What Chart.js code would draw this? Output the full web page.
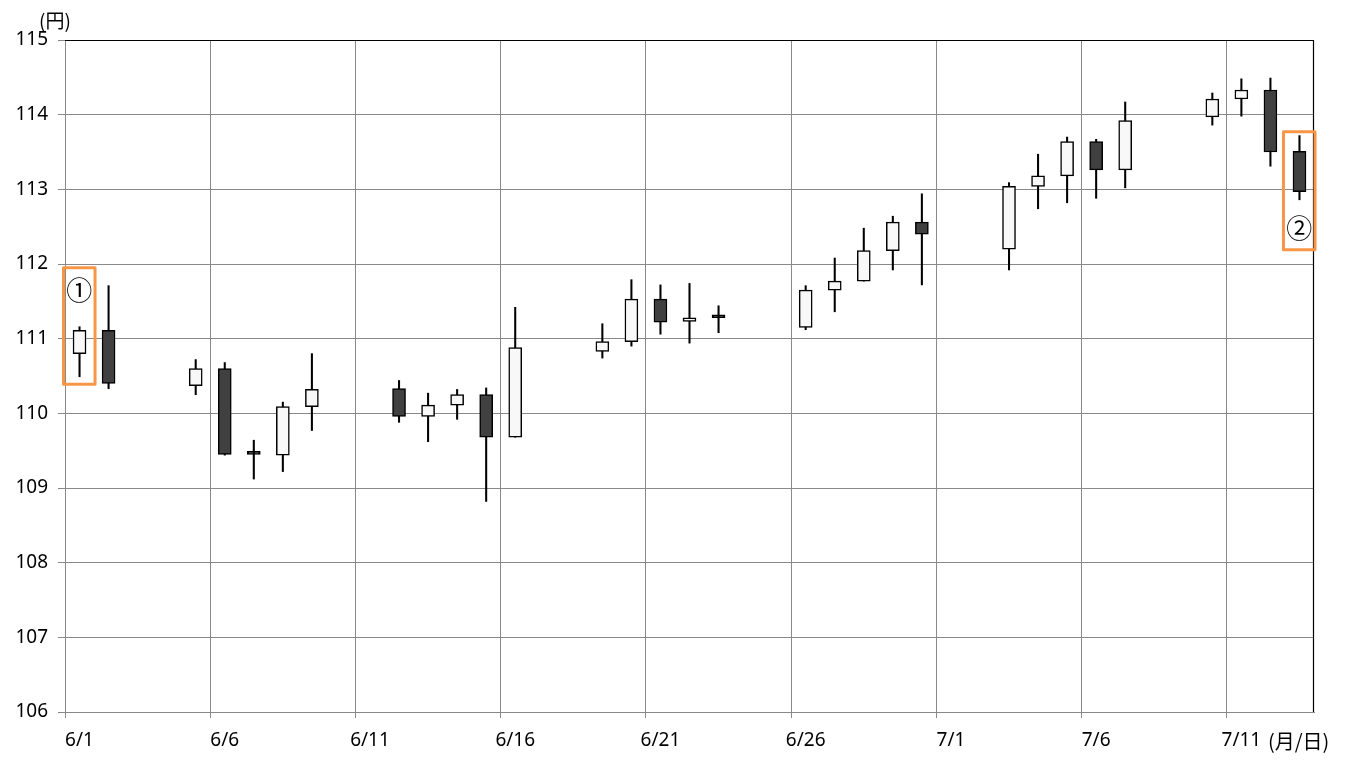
<!DOCTYPE html>
<html>
<head>
<meta charset="utf-8">
<script src="https://cdn.jsdelivr.net/npm/chart.js@4/dist/chart.umd.min.js"></script>
<style>
  html, body { margin: 0; padding: 0; background: #fff; }
  #wrap { width: 1350px; height: 765px; position: relative; }
</style>
</head>
<body>
<div id="wrap"><canvas id="chart" width="1350" height="765"></canvas></div>
<script>
// calendar days on the x axis (6/1 .. 7/13)
const calendar = [
    '6/1', '6/2', '6/3', '6/4', '6/5', '6/6', '6/7', '6/8', '6/9', '6/10',
    '6/11', '6/12', '6/13', '6/14', '6/15', '6/16', '6/17', '6/18', '6/19', '6/20',
    '6/21', '6/22', '6/23', '6/24', '6/25', '6/26', '6/27', '6/28', '6/29', '6/30',
    '7/1', '7/2', '7/3', '7/4', '7/5', '7/6', '7/7', '7/8', '7/9', '7/10',
    '7/11', '7/12', '7/13'
];

// trading days and OHLC (円)
const days = [
    '6/1', '6/2', '6/5', '6/6', '6/7', '6/8', '6/9',
    '6/12', '6/13', '6/14', '6/15', '6/16',
    '6/19', '6/20', '6/21', '6/22', '6/23',
    '6/26', '6/27', '6/28', '6/29', '6/30',
    '7/3', '7/4', '7/5', '7/6', '7/7',
    '7/10', '7/11', '7/12', '7/13'
];
const open = [
    110.80, 111.11, 110.37, 110.60, 109.45, 109.44, 110.09,
    110.33, 109.96, 110.11, 110.25, 109.68,
    110.83, 110.96, 111.53, 111.23, 111.28,
    111.15, 111.65, 111.77, 112.18, 112.56,
    112.20, 113.04, 113.18, 113.64, 113.26,
    113.97, 114.21, 114.33, 113.51
];
const high = [
    111.16, 111.71, 110.72, 110.68, 109.64, 110.15, 110.80,
    110.44, 110.27, 110.32, 110.34, 111.42,
    111.20, 111.79, 111.72, 111.74, 111.44,
    111.71, 112.08, 112.48, 112.64, 112.94,
    113.09, 113.47, 113.70, 113.67, 114.17,
    114.29, 114.48, 114.49, 113.72
];
const low = [
    110.49, 110.33, 110.25, 109.44, 109.12, 109.22, 109.77,
    109.88, 109.62, 109.92, 108.82, 109.68,
    110.74, 110.90, 111.06, 110.94, 111.08,
    111.12, 111.36, 111.77, 111.92, 111.72,
    111.92, 112.74, 112.82, 112.88, 113.02,
    113.86, 113.98, 113.31, 112.86
];
const close = [
    111.11, 110.40, 110.60, 109.45, 109.45, 110.09, 110.32,
    109.96, 110.11, 110.25, 109.68, 110.88,
    110.96, 111.53, 111.22, 111.28, 111.28,
    111.65, 111.77, 112.18, 112.56, 112.40,
    113.04, 113.18, 113.64, 113.26, 113.92,
    114.21, 114.33, 113.50, 112.97
];

const yTicks = [106, 107, 108, 109, 110, 111, 112, 113, 114, 115];

// callouts: marked day, box top/bottom and label position (円)
const noteLabels = ['①', '②'];
const noteDays = ['6/1', '7/13'];
const noteTop = [111.95, 113.77];
const noteBottom = [110.39, 112.19];
const noteTextY = [111.65, 112.48];

const GRID = '#898989';
const ORANGE = '#F79646';
const NUM_FONT = "'Noto Sans', 'DejaVu Sans', sans-serif";
const JP_FONT = "'Noto Sans CJK JP', 'Noto Sans', sans-serif";

const bodyColor = (i) => {
    if (close[i] < open[i]) return '#404040';
    if (close[i] === open[i]) return '#000000';
    return '#F8F8F8';
};

const overlayPlugin = {
    id: 'overlay',
    afterDatasetsDraw(chart) {
        const { ctx, chartArea: a, scales: { x, y } } = chart;
        ctx.save();

        // black plot border on top and right
        ctx.strokeStyle = '#000';
        ctx.lineWidth = 1.2;
        ctx.beginPath();
        ctx.moveTo(a.left, a.top + 0.5);
        ctx.lineTo(a.right - 0.5, a.top + 0.5);
        ctx.lineTo(a.right - 0.5, a.bottom);
        ctx.stroke();

        // callout boxes
        const cell = x.width / calendar.length;
        noteLabels.forEach((label, k) => {
            const cx = x.getPixelForValue(calendar.indexOf(noteDays[k]));
            const left = cx - cell / 2 - 1.5;
            const right = cx + cell / 2 + 1;
            const top = y.getPixelForValue(noteTop[k]);
            const bottom = y.getPixelForValue(noteBottom[k]);
            ctx.strokeStyle = ORANGE;
            ctx.lineWidth = 3;
            ctx.lineJoin = 'round';
            ctx.strokeRect(left, top, right - left, bottom - top);

            ctx.fillStyle = '#000';
            ctx.font = '26px ' + JP_FONT;
            ctx.textAlign = 'center';
            ctx.textBaseline = 'middle';
            ctx.fillText(label, (left + right) / 2, y.getPixelForValue(noteTextY[k]));
        });

        // unit labels
        ctx.fillStyle = '#000';
        ctx.font = '19px ' + JP_FONT;
        ctx.textAlign = 'left';
        ctx.textBaseline = 'middle';
        ctx.fillText('(円)', 39, 21);
        ctx.font = '20px ' + JP_FONT;
        ctx.fillText('(月/日)', 1268, 741);

        ctx.restore();
    }
};

const ctx = document.getElementById('chart').getContext('2d');
new Chart(ctx, {
    type: 'bar',
    data: {
        labels: calendar,
        datasets: [
            {
                label: 'body',
                data: days.map((d, i) => ({ x: d, y: [open[i], close[i]] })),
                backgroundColor: (c) => bodyColor(c.dataIndex),
                borderColor: '#000',
                borderWidth: 1.5,
                borderSkipped: false,
                barThickness: 13,
                minBarLength: 3,
                grouped: false
            },
            {
                label: 'wick',
                data: days.map((d, i) => ({ x: d, y: [low[i], high[i]] })),
                backgroundColor: '#000',
                borderWidth: 0,
                barThickness: 1.4,
                grouped: false
            }
        ]
    },
    options: {
        responsive: false,
        animation: false,
        layout: { padding: { top: 40, right: 36, bottom: 0, left: 0 } },
        plugins: {
            legend: { display: false },
            tooltip: { enabled: false }
        },
        scales: {
            x: {
                type: 'category',
                offset: true,
                afterFit: (s) => { s.height = 53; },
                grid: {
                    offset: true,
                    color: (c) => (c.index % 5 === 0 ? GRID : 'rgba(0,0,0,0)'),
                    tickColor: (c) => (c.index % 5 === 0 ? GRID : 'rgba(0,0,0,0)'),
                    tickLength: 6,
                    lineWidth: 1
                },
                border: { display: true, color: GRID, width: 1 },
                ticks: {
                    autoSkip: false,
                    maxRotation: 0,
                    padding: 11,
                    color: '#000',
                    font: { family: NUM_FONT, size: 19 },
                    callback: function (value, index) {
                        return index % 5 === 0 ? this.getLabelForValue(value) : '';
                    }
                }
            },
            y: {
                min: yTicks[0],
                max: yTicks[yTicks.length - 1],
                afterFit: (s) => { s.width = 65; },
                afterBuildTicks: (s) => { s.ticks = yTicks.map((v) => ({ value: v })); },
                grid: {
                    color: GRID,
                    tickColor: GRID,
                    tickLength: 7,
                    lineWidth: 1
                },
                border: { display: true, color: GRID, width: 1 },
                ticks: {
                    padding: 10,
                    color: '#000',
                    font: { family: NUM_FONT, size: 19 }
                }
            }
        }
    },
    plugins: [overlayPlugin]
});
</script>
</body>
</html>
